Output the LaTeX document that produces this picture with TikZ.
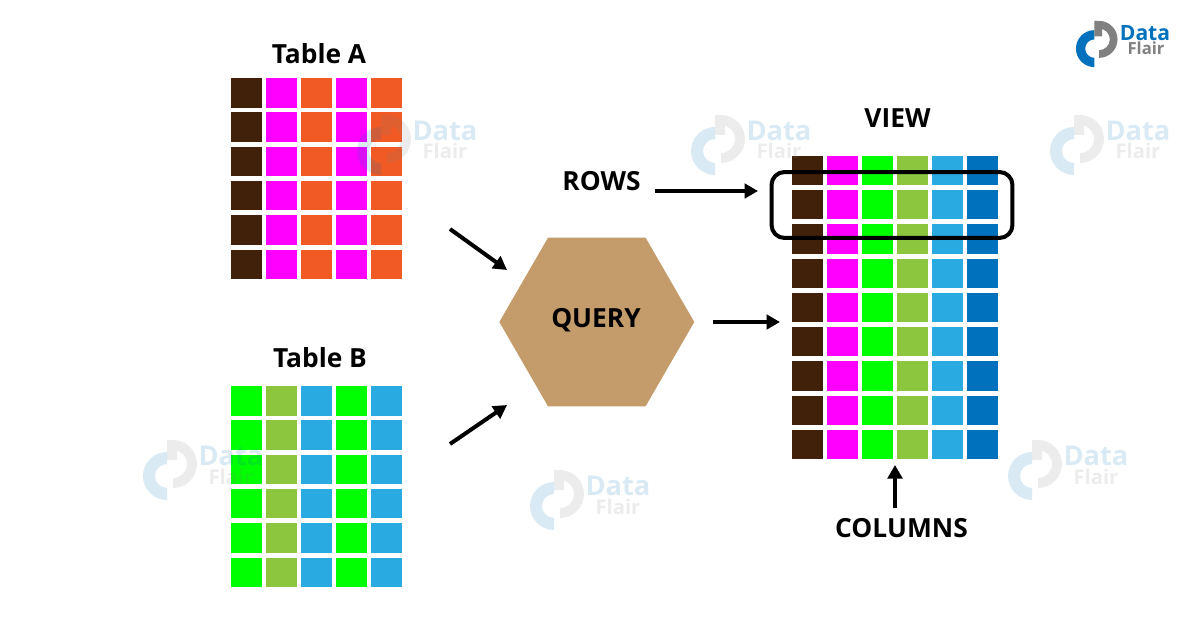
\documentclass[tikz,border=0pt]{standalone}
\usepackage{fontspec}
\setmainfont{Open Sans}
\usetikzlibrary{arrows.meta,shapes.geometric}
\definecolor{cbrown}{HTML}{42210B}
\definecolor{cmagenta}{HTML}{FF00FF}
\definecolor{corange}{HTML}{F15A24}
\definecolor{cgreen}{HTML}{00FF00}
\definecolor{colive}{HTML}{8CC63F}
\definecolor{csky}{HTML}{29ABE2}
\definecolor{cblue}{HTML}{0071BC}
\definecolor{ctan}{HTML}{C49C6C}
\definecolor{cgrey}{HTML}{808080}
\tikzset{
	cell/.style={draw=none, inner sep=0pt, minimum width=.62cm, minimum height=.59cm},
	title/.style={font=\fontsize{15}{18}\selectfont\bfseries, inner sep=0pt},
	link/.style={line width=.08cm, -{Triangle[length=.27cm,width=.29cm]}},
	word/.style={font=\fontsize{#1}{#1}\selectfont\bfseries, inner sep=0pt, text depth=0pt},
	dataflair/.pic={
		\fill[cblue] (-4,-18) arc[start angle=-90, end angle=-270, radius=24] -- (-4,18)
			arc[start angle=90, end angle=270, radius=12] -- cycle;
		\fill[cgrey] (-4,-30) -- (2,-30) arc[start angle=-90, end angle=90, radius=24] -- (2,8)
			arc[start angle=90, end angle=-90, radius=14] -- (6,-20) -- (6,-10) -- (-4,-10) -- cycle;
	}
}
\begin{document}
\begin{tikzpicture}[x=.02cm,y=-.02cm]
	\useasboundingbox (0,0) rectangle (1200,628);
	% tables
	\foreach \r in {0,...,5}{
		\foreach \c/\col in {0/cbrown,1/cmagenta,2/corange,3/cmagenta,4/corange}
			\node[cell,fill=\col] (a\r\c) at ({246.5+35*\c},{92.8+34.3*\r}) {};
		\foreach \c/\col in {0/cgreen,1/colive,2/csky,3/cgreen,4/csky}
			\node[cell,fill=\col] (b\r\c) at ({246.5+35*\c},{400.8+34.3*\r}) {};
	}
	% view
	\foreach \r in {0,...,8}
		\foreach \c/\col in {0/cbrown,1/cmagenta,2/cgreen,3/colive,4/csky,5/cblue}
			\node[cell,fill=\col] (v\r\c) at ({807.5+35*\c},{170.5+34.25*\r}) {};
	\node[regular polygon, regular polygon sides=6, fill=ctan, inner sep=0pt, minimum size=3.9cm] (query) at (596.8,322) {};
	\node[title] (querytext) at (596,320) {QUERY};
	\node[title] (tablea) at (319,54) {Table A};
	\node[title] (tableb) at (320,358) {Table B};
	\node[title] (view) at (897.5,118) {VIEW};
	\node[title] (rows) at (601.5,181) {ROWS};
	\node[title] (columns) at (901.5,528) {COLUMNS};
	\node[draw, line width=.08cm, rounded corners=.26cm, inner sep=0pt, minimum width=4.82cm, minimum height=1.32cm] (rowbox) at (892,205) {};
	% arrows
	\coordinate (a1) at (450,229);
	\coordinate (a2) at (507,270);
	\coordinate (b1) at (450,444);
	\coordinate (b2) at (507,405);
	\coordinate (q1) at (713,322);
	\coordinate (q2) at (780,322);
	\coordinate (r1) at (655,191);
	\coordinate (r2) at (758,191);
	\coordinate (c1) at (895,508);
	\coordinate (c2) at (895,465);
	\draw[link] (a1) -- (a2);
	\draw[link] (b1) -- (b2);
	\draw[link] (q1) -- (q2);
	\draw[link] (r1) -- (r2);
	\draw[link] (c1) -- (c2);
	% logo
	\pic at (1097.5,44) [scale=.77] {dataflair};
	\node[word=12, text=cblue, text height=.31cm] (logod) at (1145,33) {Data};
	\node[word=9.5, text=cgrey, text height=.2cm] (logof) at (1146,50) {Flair};
	% watermarks
	\foreach \x/\y [count=\i] in {385/145,719/145,1078/145,171/470,558/500,1036/470}{
		\begin{scope}[opacity=.15]
			\pic at (\x,\y) {dataflair};
			\node[word=15.5, text=cblue, text height=.38cm] (wd\i) at ({\x+60},{\y-14}) {Data};
			\node[word=11.5, text=cgrey, text height=.24cm] (wf\i) at ({\x+60},{\y+8}) {Flair};
		\end{scope}
	}
\end{tikzpicture}
\end{document}
